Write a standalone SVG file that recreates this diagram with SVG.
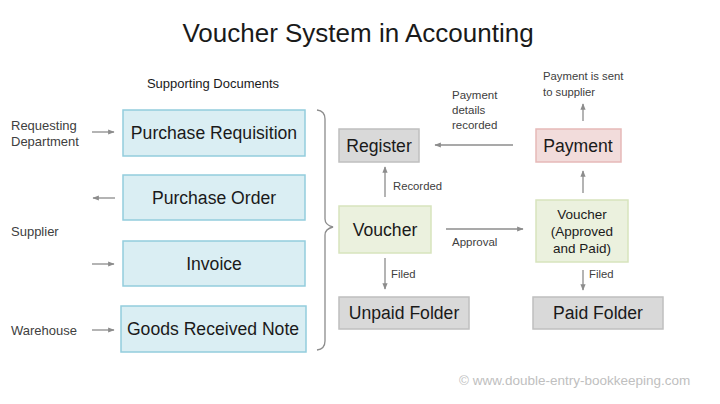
<svg xmlns="http://www.w3.org/2000/svg" width="720" height="404" viewBox="0 0 720 404">
<style>
text{font-family:"Liberation Sans",Arial,sans-serif;fill:#1a1a1a}
.doc{fill:#daeef3;stroke:#93cddd;stroke-width:1.5}
.gray{fill:#d9d9d9;stroke:#bfbfbf;stroke-width:1.5}
.pink{fill:#f2dcdb;stroke:#e6b9b8;stroke-width:1.5}
.green{fill:#ebf1de;stroke:#d7e4bd;stroke-width:1.5}
.big{font-size:17.6px;text-anchor:middle}
.sm{font-size:11.3px;fill:#404040}
.lbl{font-size:13px;fill:#404040}
.conn{stroke:#8c8c8c;stroke-width:1.3;fill:none;marker-end:url(#ah)}
</style>
<defs>
<marker id="ah" viewBox="0 0 10 10" refX="9" refY="5" markerWidth="5" markerHeight="5" orient="auto"><path d="M0,1 L10,5 L0,9 z" fill="#8c8c8c"/></marker>
</defs>
<rect width="720" height="404" fill="#ffffff"/>
<text x="358" y="42" font-size="26" text-anchor="middle">Voucher System in Accounting</text>
<text x="213" y="88" class="lbl" text-anchor="middle" style="fill:#1a1a1a">Supporting Documents</text>

<g id="purchase-requisition"><rect class="doc" x="123" y="110" width="182" height="46"/><text class="big" x="214" y="139">Purchase Requisition</text></g>
<g id="purchase-order"><rect class="doc" x="123" y="175" width="182" height="45"/><text class="big" x="214" y="204">Purchase Order</text></g>
<g id="invoice"><rect class="doc" x="123" y="241" width="182" height="45"/><text class="big" x="214" y="270">Invoice</text></g>
<g id="goods-received-note"><rect class="doc" x="121" y="306" width="185" height="46"/><text class="big" x="213" y="335">Goods Received Note</text></g>

<g id="requesting-department"><text class="lbl" x="11" y="130">Requesting</text><text class="lbl" x="11" y="146">Department</text></g>
<g id="supplier"><text class="lbl" x="11" y="236">Supplier</text></g>
<g id="warehouse"><text class="lbl" x="11" y="335">Warehouse</text></g>

<g id="register"><rect class="gray" x="339" y="129" width="80" height="33"/><text class="big" x="379" y="152">Register</text></g>
<g id="payment"><rect class="pink" x="536" y="129" width="85" height="33"/><text class="big" x="578" y="152">Payment</text></g>
<g id="voucher"><rect class="green" x="339" y="206" width="92" height="47"/><text class="big" x="385" y="236">Voucher</text></g>
<g id="voucher-approved"><rect class="green" x="536" y="200" width="92" height="62"/><text x="582" y="219" font-size="13.5" text-anchor="middle">Voucher</text><text x="582" y="236" font-size="13.5" text-anchor="middle">(Approved</text><text x="582" y="253" font-size="13.5" text-anchor="middle">and Paid)</text></g>
<g id="unpaid-folder"><rect class="gray" x="339" y="297" width="130" height="32"/><text class="big" x="404" y="319">Unpaid Folder</text></g>
<g id="paid-folder"><rect class="gray" x="533" y="297" width="130" height="32"/><text class="big" x="598" y="319">Paid Folder</text></g>

<g id="connectors">
<line class="conn" x1="92" y1="132" x2="114" y2="132"/>
<line class="conn" x1="115" y1="198" x2="93" y2="198"/>
<line class="conn" x1="92" y1="264" x2="114" y2="264"/>
<line class="conn" x1="92" y1="330" x2="114" y2="330"/>
<path d="M317,110 Q325,111 325,119 L325,219 Q325,225 333,227 Q325,229 325,235 L325,341 Q325,349 317,350" fill="none" stroke="#8c8c8c" stroke-width="1.3"/>
<line class="conn" x1="513" y1="145" x2="435" y2="145"/>
<line class="conn" x1="583" y1="121" x2="583" y2="104"/>
<line class="conn" x1="385" y1="197" x2="385" y2="167"/>
<line class="conn" x1="583" y1="193" x2="583" y2="171"/>
<line class="conn" x1="446" y1="229" x2="523" y2="229"/>
<line class="conn" x1="385" y1="258" x2="385" y2="289"/>
<line class="conn" x1="583" y1="270" x2="583" y2="290"/>
<text class="sm" x="452" y="99" style="font-size:11.5px">Payment</text>
<text class="sm" x="452" y="114" style="font-size:11.5px">details</text>
<text class="sm" x="452" y="129" style="font-size:11.5px">recorded</text>
<text class="sm" x="543" y="80">Payment is sent</text>
<text class="sm" x="543" y="96">to supplier</text>
<text class="sm" x="393" y="190">Recorded</text>
<text class="sm" x="452" y="246" style="font-size:11.5px">Approval</text>
<text class="sm" x="391" y="278">Filed</text>
<text class="sm" x="589" y="278">Filed</text>
</g>
<text x="459" y="385" font-size="13.5" style="fill:#c0c0c0">© www.double-entry-bookkeeping.com</text>
</svg>
